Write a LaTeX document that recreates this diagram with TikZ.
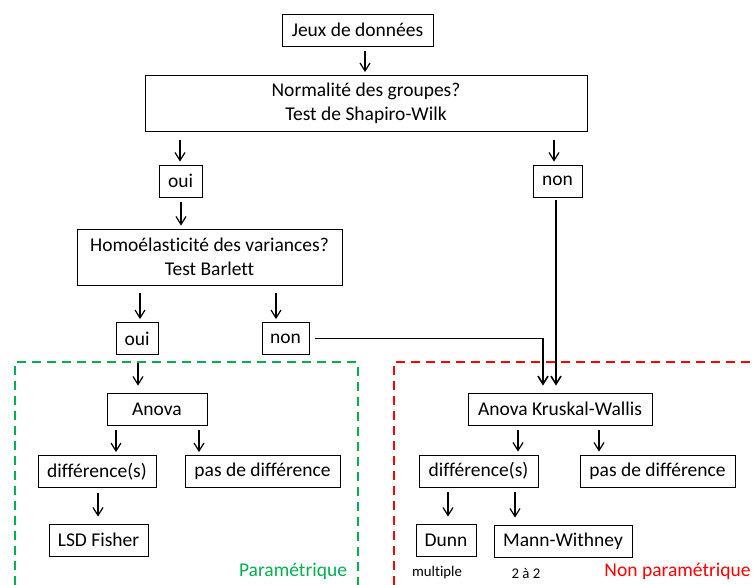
\documentclass[tikz,border=0pt]{standalone}
\usepackage{fontspec}
\setmainfont{Carlito}[Ligatures=NoCommon]
\usetikzlibrary{arrows.meta}
\definecolor{paramgreen}{RGB}{0,176,80}

\begin{document}
\begin{tikzpicture}[x=1pt, y=-1pt, >={Straight Barb[length=8pt,width=10pt]}, thick,
    box/.style={draw, rectangle, minimum height=32pt, inner sep=0pt, align=center, font=\fontsize{19.5}{23.5}\selectfont},
    tall/.style={box, minimum height=56pt},
    arr/.style={->, line width=1.2pt, shorten <=5pt, shorten >=3pt},
    longarr/.style={arr, line width=1.6pt},
    zone/.style={line width=2pt, dash pattern=on 9pt off 6pt},
    small/.style={font=\fontsize{14.8}{17}\selectfont},
    tag/.style={font=\fontsize{19.5}{23.5}\selectfont}]

    \useasboundingbox (0,0) rectangle (754,585);

    % Zones
    \draw[zone, paramgreen] (15,585) -- (15,362) -- (357.5,362) -- (357.5,585);
    \draw[zone, red] (394,585) -- (394,362) -- (754,362);

    % Nodes
    \node (data) [box, minimum width=151pt] at (357.5,30) {Jeux de données};
    \node (norm) [tall, minimum width=442pt] at (366,103.5) {Normalité des groupes?\\Test de Shapiro-Wilk};
    \node (oui1) [box, minimum width=43pt] at (180.5,181) {oui};
    \node (non1) [box, minimum width=49pt] at (557.5,181) {non};
    \node (homo) [tall, minimum width=265pt] at (209.5,257) {Homoélasticité des variances?\\Test Barlett};
    \node (oui2) [box, minimum width=42pt] at (137,338.5) {oui};
    \node (non2) [box, minimum width=47pt] at (285.5,338.5) {non};
    \node (anova) [box, minimum width=100pt] at (157,409) {Anova};
    \node (diffp) [box, minimum width=118pt] at (97,471.5) {différence(s)};
    \node (pasp) [box, minimum width=155pt] at (262.5,471.5) {pas de différence};
    \node (lsd) [box, minimum width=99pt] at (98.5,540) {LSD Fisher};
    \node (kw) [box, minimum width=184pt] at (560,409) {Anova Kruskal-Wallis};
    \node (diffn) [box, minimum width=119pt] at (478.5,471) {différence(s)};
    \node (pasn) [box, minimum width=155pt] at (657.5,471) {pas de différence};
    \node (dunn) [box, minimum width=60pt] at (446,540) {Dunn};
    \node (mann) [box, minimum width=138pt] at (563,541) {Mann-Withney};
    \node (multi) [small] at (437,573) {multiple};
    \node (deux) [small] at (526,573) {2 à 2};
    \node (param) [tag, text=paramgreen] at (293,571) {Paramétrique};
    \node (nonparam) [tag, text=red] at (677.5,571) {Non paramétrique};

    % Links
    \draw[arr] (data.south -| 365,0) -- (norm.north -| 365,0);
    \draw[arr, shorten <=8pt] (norm.south -| 180,0) -- (oui1.north -| 180,0);
    \draw[arr, shorten <=8pt] (norm.south -| 554,0) -- (non1.north -| 554,0);
    \draw[arr] (oui1.south -| 181,0) -- (homo.north -| 181,0);
    \draw[arr, shorten <=8pt] (homo.south -| 140,0) -- (oui2.north -| 140,0);
    \draw[arr, shorten <=8pt] (homo.south -| 276,0) -- (non2.north -| 276,0);
    \draw[arr, shorten <=8pt, shorten >=7pt] (oui2.south -| 138,0) -- (anova.north -| 138,0);
    \draw[arr] (anova.south -| 116,0) -- (diffp.north -| 116,0);
    \draw[arr] (anova.south -| 199,0) -- (pasp.north -| 199,0);
    \draw[arr, shorten >=7pt] (diffp.south -| 98,0) -- (lsd.north -| 98,0);
    \draw[longarr, shorten <=6pt, shorten >=7pt] (non2.east) -| (kw.north -| 543,0);
    \draw[longarr, shorten <=3pt, shorten >=7pt] (non1.south -| 556,0) -- (kw.north -| 556,0);
    \draw[arr] (kw.south -| 518,0) -- (diffn.north -| 518,0);
    \draw[arr] (kw.south -| 599,0) -- (pasn.north -| 599,0);
    \draw[arr, shorten >=7pt] (diffn.south -| 448,0) -- (dunn.north -| 448,0);
    \draw[arr, shorten >=7pt] (diffn.south -| 515,0) -- (mann.north -| 515,0);
\end{tikzpicture}
\end{document}
